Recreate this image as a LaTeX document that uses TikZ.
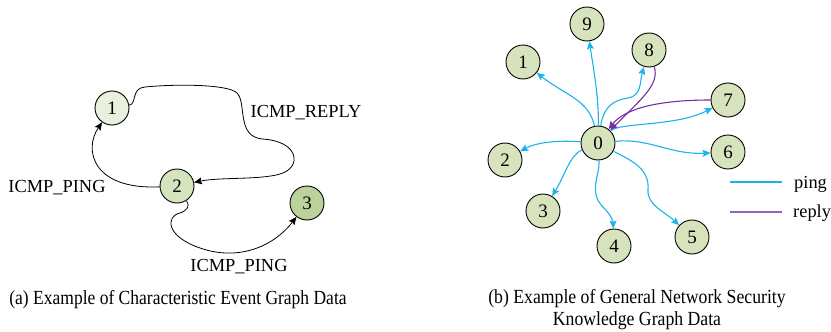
\documentclass[tikz,border=0pt]{standalone}
\usepackage{fontspec}
\usepackage{graphicx}
\setmainfont{Liberation Serif}
\usetikzlibrary{arrows.meta}
\definecolor{pingc}{RGB}{28,178,236}
\definecolor{replyc}{RGB}{112,48,160}
\definecolor{na}{RGB}{233,240,222}
\definecolor{nb}{RGB}{214,228,190}
\definecolor{nc}{RGB}{188,210,155}
\definecolor{nd}{RGB}{215,227,188}
\newcommand{\capfont}{\fontsize{20}{22}\selectfont}
\begin{document}
\begin{tikzpicture}[x=1pt,y=-1pt,
  vtx/.style={circle,draw=black,line width=0.9pt,minimum size=34pt,inner sep=0pt,font=\fontsize{19}{21}\selectfont},
  lbl/.style={font=\fontsize{18.4}{21}\selectfont,inner sep=0pt},
  captxt/.style={font=\capfont,inner sep=0pt},
  arr/.style={-{Stealth[length=8pt,width=7pt,inset=1.5pt]},line width=0.8pt,black},
  parr/.style={-{Stealth[length=8pt,width=7pt,inset=1.5pt]},line width=1.1pt,pingc},
  rarr/.style={-{Stealth[length=8pt,width=7pt,inset=1.5pt]},line width=1.1pt,replyc}]
\useasboundingbox (0,0) rectangle (831,332);
% ---------- panel (a)
\node[vtx,fill=na] (a1) at (112,108) {1};
\node[vtx,fill=nb] (a2) at (177,186) {2};
\node[vtx,fill=nc] (a3) at (307,203) {3};
\draw[arr] (a2) .. controls (93,190) and (83,150) .. (a1);
\draw[arr] (a1) .. controls (137,104) and (131,88) .. (145,87)
  .. controls (175,84) and (228,84) .. (237,93)
  .. controls (247,103) and (236,136) .. (262,139)
  .. controls (300,141) and (302,168) .. (280,174)
  .. controls (260,180) and (220,177) .. (a2);
\draw[arr] (a2) .. controls (190,206) and (188,210) .. (180,213)
  .. controls (166,216) and (165,236) .. (200,248)
  .. controls (240,262) and (275,245) .. (a3);
\node[lbl] (lr) at (306,113) {ICMP\_REPLY};
\node[lbl] (lp1) at (57,188) {ICMP\_PING};
\node[lbl] (lp2) at (239,267) {ICMP\_PING};
\node[captxt] (capa) at (178,300) {\scalebox{0.875}[1]{(a) Example of Characteristic Event Graph Data}};
% ---------- panel (b)
\node[vtx,fill=nd] (b0) at (598,143) {0};
\node[vtx,fill=nd] (b1) at (523,62) {1};
\node[vtx,fill=nd] (b2) at (505,160) {2};
\node[vtx,fill=nd] (b3) at (543,211) {3};
\node[vtx,fill=nd] (b4) at (614,246) {4};
\node[vtx,fill=nd] (b5) at (692,237) {5};
\node[vtx,fill=nd] (b6) at (728,152) {6};
\node[vtx,fill=nd] (b7) at (728,100) {7};
\node[vtx,fill=nd] (b8) at (649,50) {8};
\node[vtx,fill=nd] (b9) at (587,24) {9};
\draw[parr] (b0) .. controls (589,100) and (565,95) .. (b1);
\draw[parr] (b0) .. controls (599,95) and (592,60) .. (b9);
\draw[parr] (b0) .. controls (604,105) and (615,100) .. (628,98)
  .. controls (642,96) and (640,80) .. (b8);
\draw[rarr] (b8) .. controls (660,85) and (640,100) .. (b0);
\draw[rarr] (b7) .. controls (660,100) and (625,108) .. (b0);
\draw[parr] (b0) .. controls (620,122) and (675,127) .. (b7);
\draw[parr] (b0) .. controls (650,138) and (670,155) .. (b6);
\draw[parr] (b0) .. controls (555,140) and (535,143) .. (b2);
\draw[parr] (b0) .. controls (570,155) and (565,175) .. (b3);
\draw[parr] (b0) .. controls (600,175) and (588,192) .. (603,207)
  .. controls (610,214) and (613,220) .. (b4);
\draw[parr] (b0) .. controls (630,160) and (650,168) .. (648,190)
  .. controls (647,205) and (665,212) .. (b5);
% legend
\coordinate (lg1a) at (730,182);
\coordinate (lg1b) at (782,182);
\coordinate (lg2a) at (730,212);
\coordinate (lg2b) at (782,212);
\draw[pingc,line width=1.1pt] (lg1a) -- (lg1b);
\draw[replyc!75,line width=1.1pt] (lg2a) -- (lg2b);
\node[lbl,anchor=base west] (tping) at (794,188) {ping};
\node[lbl,anchor=base west] (treply) at (793,217) {reply};
\node[captxt,anchor=base] (capb1) at (637,303) {\scalebox{0.885}[1]{(b) Example of General Network Security}};
\node[captxt,anchor=base] (capb2) at (637,325) {\scalebox{0.885}[1]{Knowledge Graph Data}};
\end{tikzpicture}
\end{document}
